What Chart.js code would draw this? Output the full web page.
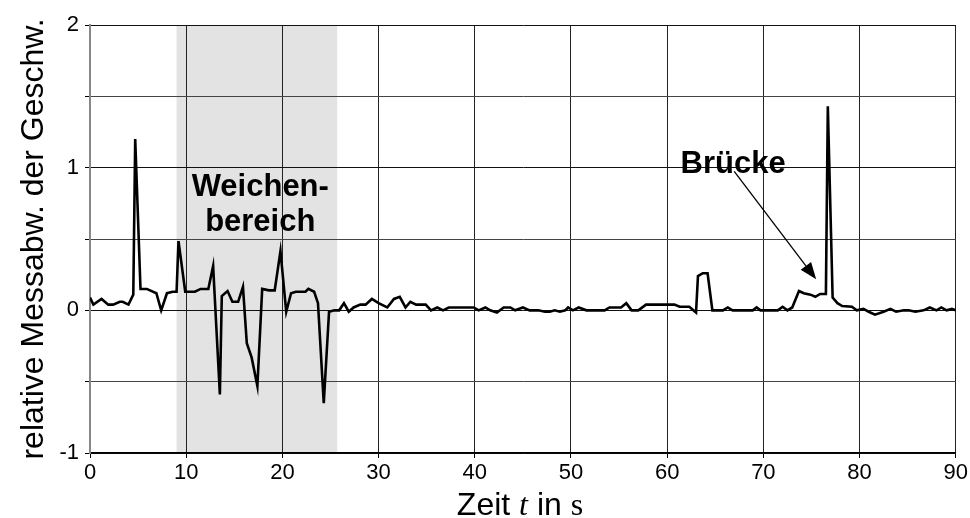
<!DOCTYPE html>
<html>
<head>
<meta charset="utf-8">
<script src="https://cdn.jsdelivr.net/npm/chart.js@4.4.1/dist/chart.umd.min.js"></script>
<style>
html,body{margin:0;padding:0;background:#fff;}
#wrap{width:970px;height:518px;position:relative;}
</style>
</head>
<body>
<div id="wrap"><canvas id="c" width="970" height="518"></canvas></div>
<script>
// Data
const timeS = [0,0.35,1.2,1.9,2.4,3.1,3.4,4.0,4.5,4.7,5.25,5.9,6.9,7.4,8.0,8.6,9.0,9.2,9.9,10.9,11.5,12.3,12.8,13.5,13.7,14.3,14.8,15.4,15.9,16.3,16.8,17.4,17.9,18.6,19.2,19.8,20.4,20.9,21.4,22.4,22.7,23.3,23.7,24.3,24.85,25.4,25.9,26.4,26.9,27.4,28.1,28.65,29.3,30.0,30.9,31.6,32.2,32.8,33.3,33.9,34.9,35.45,36.1,36.7,37.3,39.9,40.4,41.1,41.6,42.3,43.0,43.7,44.2,45.0,45.7,46.6,47.3,47.8,48.3,48.85,49.4,49.7,50.2,50.8,51.6,53.5,54.0,55.2,55.75,56.3,57.0,57.8,59.0,60.75,61.3,62.3,63.0,63.2,63.7,64.2,64.7,65.8,66.3,66.8,68.9,69.3,69.7,71.5,72.0,72.5,73.0,73.7,74.2,74.9,75.4,75.9,76.5,76.7,77.2,77.7,78.2,79.2,79.7,80.4,80.95,81.6,82.5,83.2,83.8,84.6,85.1,85.8,86.65,87.3,88.0,88.5,89.05,89.6,90.0];
const relDev = [0.09,0.04,0.08,0.04,0.04,0.06,0.06,0.04,0.11,1.2,0.15,0.15,0.12,0.0,0.12,0.13,0.13,0.485,0.13,0.13,0.15,0.15,0.31,-0.59,0.10,0.135,0.06,0.06,0.165,-0.23,-0.33,-0.53,0.15,0.14,0.14,0.415,-0.01,0.12,0.13,0.13,0.15,0.13,0.05,-0.65,-0.01,0.0,0.0,0.05,-0.01,0.02,0.04,0.04,0.08,0.05,0.02,0.08,0.095,0.02,0.06,0.04,0.04,0.0,0.02,0.0,0.02,0.02,0.0,0.02,0.0,-0.015,0.02,0.02,0.0,0.02,0.0,0.0,-0.01,-0.01,0.0,-0.01,0.0,0.02,0.0,0.02,0.0,0.0,0.02,0.02,0.05,0.0,0.0,0.04,0.04,0.04,0.025,0.025,-0.015,0.24,0.26,0.26,0.0,0.0,0.02,0.0,0.0,0.02,0.0,0.0,0.025,0.0,0.02,0.135,0.12,0.11,0.095,0.115,0.115,1.43,0.09,0.05,0.03,0.025,0.0,0.01,-0.01,-0.03,-0.01,0.01,-0.01,0.0,0.0,-0.01,0.0,0.02,0.0,0.02,0.0,0.01,0.0];
const switchZone = [9.0, 25.7];          // shaded "Weichenbereich" (s)
const yTickLabels = [-1, 0, 1, 2];
const xTicks = [0,10,20,30,40,50,60,70,80,90];

const points = timeS.map((t, i) => ({x: t, y: relDev[i]}));

const bgPlugin = {
  id: 'bg',
  beforeDraw(chart) {
    const {ctx, chartArea: a, scales: {x}} = chart;
    ctx.save();
    ctx.fillStyle = '#fff';
    ctx.fillRect(0, 0, chart.width, chart.height);
    const x0 = x.getPixelForValue(switchZone[0]);
    const x1 = x.getPixelForValue(switchZone[1]);
    ctx.fillStyle = '#e3e3e3';
    ctx.fillRect(x0, a.top, x1 - x0, a.bottom - a.top);
    ctx.restore();
  }
};

const annoPlugin = {
  id: 'anno',
  afterDatasetsDraw(chart) {
    const {ctx, scales: {x, y}} = chart;
    ctx.save();
    ctx.fillStyle = '#000';
    ctx.font = 'bold 31px "Liberation Sans", Arial, sans-serif';
    ctx.textAlign = 'center';
    ctx.textBaseline = 'alphabetic';
    ctx.fillText('Weichen-', x.getPixelForValue(17.7), y.getPixelForValue(0.80));
    ctx.fillText('bereich', x.getPixelForValue(17.7), y.getPixelForValue(0.555));
    ctx.fillText('Brücke', x.getPixelForValue(66.85), y.getPixelForValue(0.963));
    // arrow
    const ax0 = x.getPixelForValue(66.97), ay0 = y.getPixelForValue(0.974);
    const ax1 = x.getPixelForValue(75.49), ay1 = y.getPixelForValue(0.217);
    const ang = Math.atan2(ay1 - ay0, ax1 - ax0);
    const hl = 17, hw = 6.5;
    const bx = ax1 - hl * Math.cos(ang), by = ay1 - hl * Math.sin(ang);
    ctx.strokeStyle = '#000';
    ctx.lineWidth = 1.3;
    ctx.beginPath();
    ctx.moveTo(ax0, ay0);
    ctx.lineTo(bx, by);
    ctx.stroke();
    ctx.beginPath();
    ctx.moveTo(ax1, ay1);
    ctx.lineTo(bx + hw * Math.sin(ang), by - hw * Math.cos(ang));
    ctx.lineTo(bx - hw * Math.sin(ang), by + hw * Math.cos(ang));
    ctx.closePath();
    ctx.fill();
    ctx.restore();
  },
  afterDraw(chart) {
    const {ctx} = chart;
    ctx.save();
    ctx.fillStyle = '#000';
    ctx.textBaseline = 'alphabetic';
    ctx.textAlign = 'left';
    const parts = [
      ['Zeit ', '32px "Liberation Sans", Arial, sans-serif'],
      ['t', 'italic 32px "Liberation Serif", "Times New Roman", serif'],
      [' in ', '32px "Liberation Sans", Arial, sans-serif'],
      ['s', '32px "Liberation Serif", "Times New Roman", serif']
    ];
    let total = 0;
    const widths = parts.map(p => { ctx.font = p[1]; const w = ctx.measureText(p[0]).width; total += w; return w; });
    let cx = 520 - total / 2;
    parts.forEach((p, i) => { ctx.font = p[1]; ctx.fillText(p[0], cx, 515); cx += widths[i]; });
    ctx.restore();
  }
};

new Chart(document.getElementById('c'), {
  type: 'line',
  data: {
    datasets: [{
      data: points,
      borderColor: '#000',
      borderWidth: 2.6,
      pointRadius: 0,
      tension: 0,
      fill: false
    }]
  },
  options: {
    responsive: false,
    animation: false,
    events: [],
    layout: {padding: {top: 25, right: 11, left: 0, bottom: 0}},
    plugins: {legend: {display: false}, tooltip: {enabled: false}},
    scales: {
      x: {
        type: 'linear',
        min: 0, max: 90,
        afterFit(s) { s.height = 65; },
        afterBuildTicks(s) { s.ticks = xTicks.map(v => ({value: v})); },
        ticks: {
          stepSize: 10,
          color: '#000',
          padding: 2,
          maxRotation: 0,
          font: {family: '"Liberation Sans", Arial, sans-serif', size: 22}
        },
        grid: {color: '#222', lineWidth: 1, tickLength: 5, tickColor: '#000'},
        border: {color: '#000', width: 1.5}
      },
      y: {
        min: -1, max: 2,
        afterFit(s) { s.width = 90; },
        ticks: {
          stepSize: 0.5,
          color: '#000',
          padding: 6,
          font: {family: '"Liberation Sans", Arial, sans-serif', size: 22},
          callback: (v) => yTickLabels.includes(v) ? String(v) : ''
        },
        grid: {
          color: (c) => Number.isInteger(c.tick.value) ? '#111' : '#444',
          lineWidth: 1, tickLength: 5, tickColor: '#000'
        },
        border: {color: '#888', width: 2},
        title: {
          display: true,
          text: 'relative Messabw. der Geschw.',
          color: '#000',
          font: {family: '"Liberation Sans", Arial, sans-serif', size: 32},
          padding: {top: 15, bottom: 0}
        }
      }
    }
  },
  plugins: [bgPlugin, annoPlugin]
});
</script>
</body>
</html>
